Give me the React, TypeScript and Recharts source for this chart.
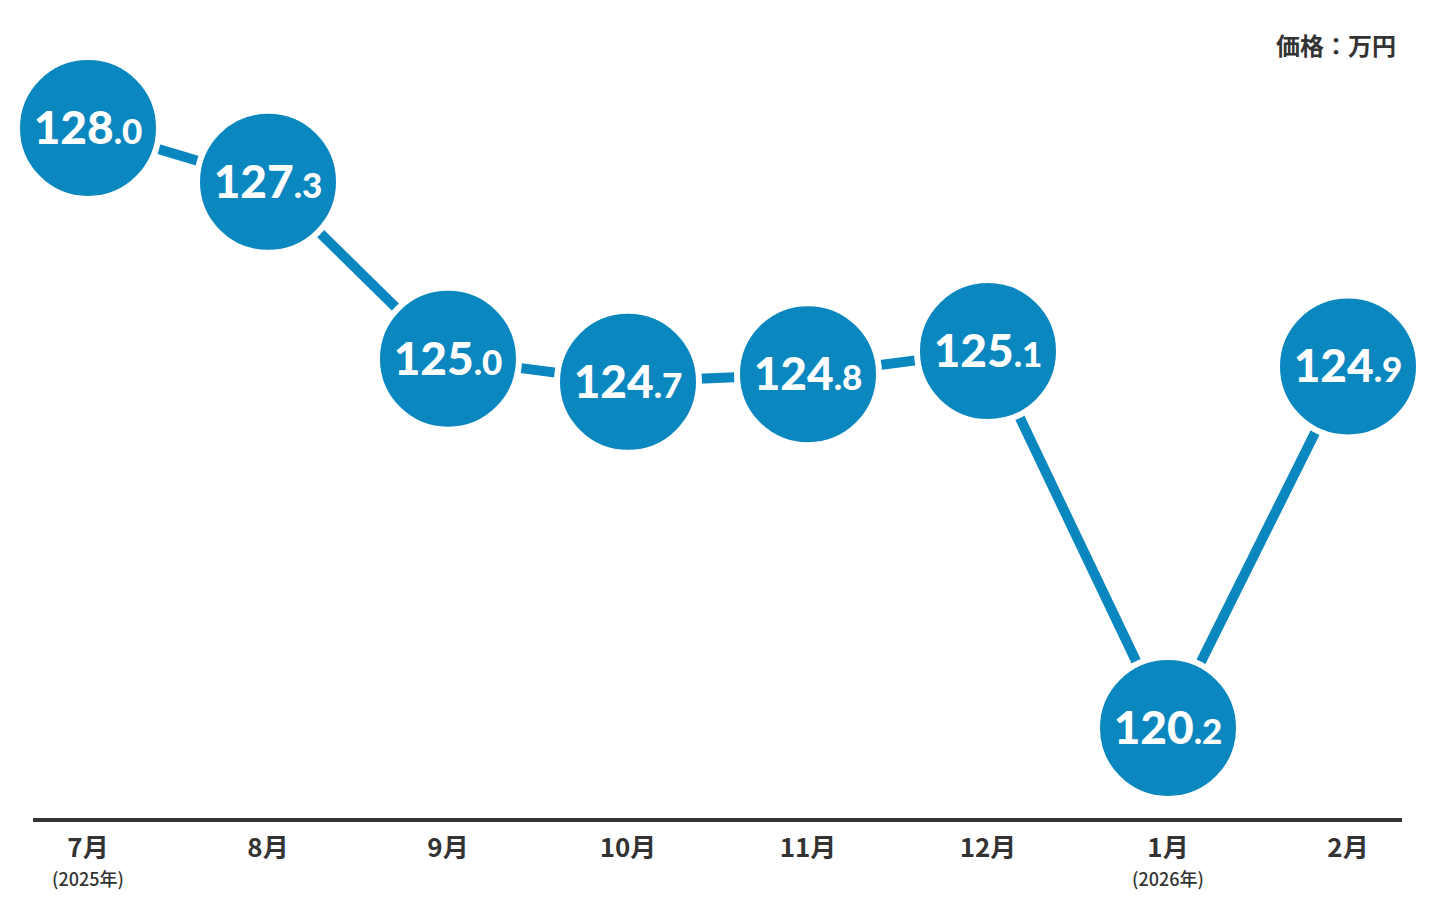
import React from 'react';
import { LineChart, Line, XAxis, YAxis } from 'recharts';

// Monthly price (万円)
const months = ['7月', '8月', '9月', '10月', '11月', '12月', '1月', '2月'];
const years = ['(2025年)', '', '', '', '', '', '(2026年)', ''];
const prices = [128.0, 127.3, 125.0, 124.7, 124.8, 125.1, 120.2, 124.9];

const data = months.map((m, i) => ({ month: m, year: years[i], price: prices[i] }));

const BLUE = '#0a87bf';
const DARK = '#333333';

const PriceDot = (props: any) => {
    const { cx, cy, value } = props;
    if (cx == null || cy == null) return null;
    const [whole, frac] = Number(value).toFixed(1).split('.');
    return (
        <g>
            <circle cx={cx} cy={cy} r={71} fill={BLUE} stroke="#fff" strokeWidth={6} />
            <text
                x={cx}
                y={cy + 16}
                textAnchor="middle"
                fill="#fff"
                fontFamily="Lato, 'Noto Sans', sans-serif"
                fontWeight={900}
            >
                <tspan fontSize={46}>{whole}</tspan>
                <tspan fontSize={35}>.{frac}</tspan>
            </text>
        </g>
    );
};

const MonthTick = (props: any) => {
    const { x, y, payload, index } = props;
    const yr = years[index];
    return (
        <g>
            <text x={x} y={y + 29} textAnchor="middle" fill={DARK} fontSize={26} fontWeight={700}
                fontFamily="'Noto Sans CJK JP', 'Noto Sans', sans-serif">
                {payload.value}
            </text>
            {yr && (
                <text x={x} y={y + 58} textAnchor="middle" fill={DARK} fontSize={18} fontWeight={500}
                    fontFamily="'Noto Sans CJK JP', 'Noto Sans', sans-serif">
                    {yr}
                </text>
            )}
        </g>
    );
};

export default function App() {
    return (
        <div style={{ position: 'absolute', left: 0, top: 0, width: 1436, height: 914, background: '#fff' }}>
            <div
                style={{
                    position: 'absolute', right: 40, top: 27, fontSize: 24, fontWeight: 700, color: DARK,
                    fontFamily: "'Noto Sans CJK JP', sans-serif"
                }}
            >
                価格：万円
            </div>
            <LineChart width={1436} height={914} data={data} margin={{ top: 0, right: 34, left: 33, bottom: 0 }}>
                <XAxis
                    dataKey="month"
                    height={94}
                    padding={{ left: 55, right: 54 }}
                    axisLine={{ stroke: DARK, strokeWidth: 4 }}
                    tickLine={false}
                    tick={<MonthTick />}
                    interval={0}
                />
                <YAxis hide domain={[119.004, 129.664]} type="number" />
                <Line
                    type="linear"
                    dataKey="price"
                    stroke={BLUE}
                    strokeWidth={10}
                    dot={<PriceDot />}
                    activeDot={false}
                    isAnimationActive={false}
                />
            </LineChart>
        </div>
    );
}
